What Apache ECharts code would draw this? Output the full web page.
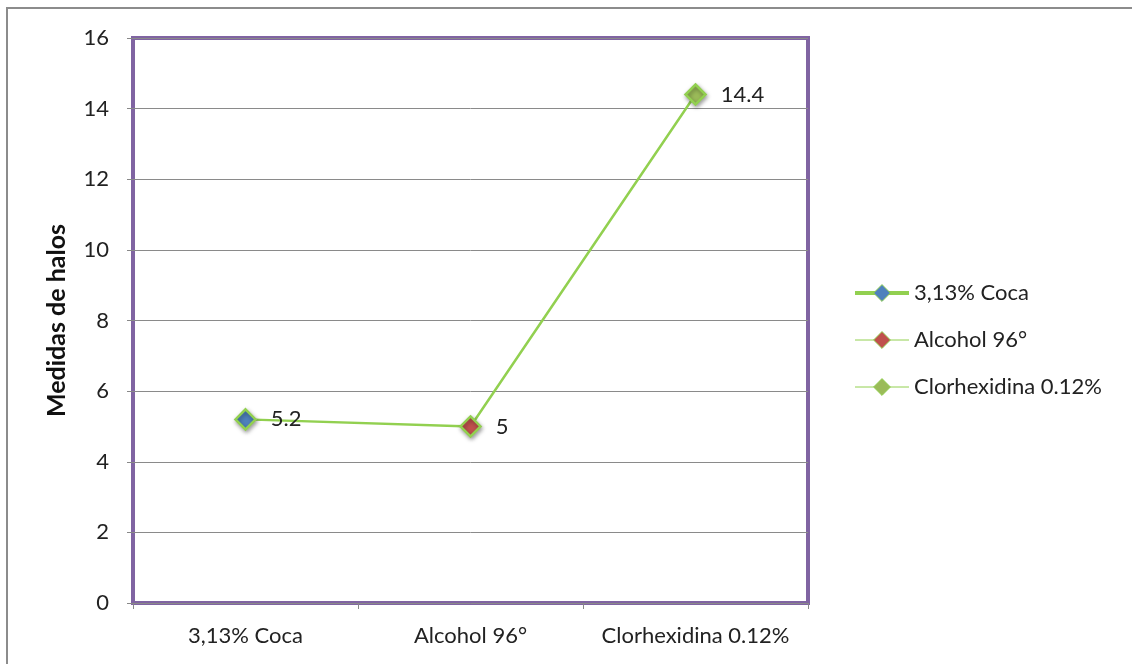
<!DOCTYPE html>
<html>
<head>
<meta charset="utf-8">
<script src="https://cdn.jsdelivr.net/npm/echarts@6/dist/echarts.min.js"></script>
<style>
  html, body { margin: 0; padding: 0; background: #fff; }
  #chart { width: 1132px; height: 664px; }
</style>
</head>
<body>
<div id="chart"></div>
<script>
// Halo measurements per antiseptic
const categories = ['3,13% Coca', 'Alcohol 96°', 'Clorhexidina 0.12%'];
const values = [5.2, 5, 14.4];
const pointColors = ['#4F81BD', '#C0504D', '#9BBB59'];
const yTicks = { min: 0, max: 16, interval: 2 };

const FONT = 'Lato, "Open Sans", sans-serif';
const LINE_GREEN = '#92D050';

const chart = echarts.init(document.getElementById('chart'), null, { renderer: 'canvas' });

const pointData = values.map((v, i) => ({
  value: v,
  itemStyle: { color: pointColors[i], borderColor: LINE_GREEN, borderWidth: 2.5,
    shadowColor: 'rgba(0,0,0,0.35)', shadowBlur: 4, shadowOffsetX: 1, shadowOffsetY: 2 }
}));

chart.setOption({
  animation: false,
  backgroundColor: '#fff',
  graphic: [{
    type: 'rect',
    shape: { x: 7, y: 8, width: 1140, height: 700 },
    style: { fill: 'none', stroke: '#8c8c8c', lineWidth: 2 },
    silent: true
  }],
  grid: {
    left: 133, top: 38, right: 324, bottom: 61,
    show: true, borderColor: '#8064A2', borderWidth: 4, backgroundColor: 'transparent'
  },
  legend: {
    orient: 'vertical',
    left: 848, top: 277,
    itemWidth: 54, itemHeight: 21, itemGap: 25,
    textStyle: { fontFamily: FONT, fontSize: 22, color: '#222' },
    data: [
      { name: categories[0], itemStyle: { color: pointColors[0], borderColor: LINE_GREEN, borderWidth: 1 }, lineStyle: { color: LINE_GREEN, width: 4 } },
      { name: categories[1], itemStyle: { color: pointColors[1], borderColor: LINE_GREEN, borderWidth: 1 }, lineStyle: { color: LINE_GREEN, width: 1 } },
      { name: categories[2], itemStyle: { color: pointColors[2], borderColor: LINE_GREEN, borderWidth: 1 }, lineStyle: { color: LINE_GREEN, width: 1 } }
    ]
  },
  xAxis: {
    type: 'category',
    data: categories,
    boundaryGap: true,
    axisLine: { show: false },
    axisTick: { show: true, length: 6, lineStyle: { color: '#888' } },
    axisLabel: { interval: 0, fontFamily: FONT, fontSize: 22, color: '#222', margin: 22 },
    splitLine: { show: false }
  },
  yAxis: {
    type: 'value',
    min: yTicks.min, max: yTicks.max, interval: yTicks.interval,
    name: 'Medidas de halos',
    nameLocation: 'middle',
    nameGap: 64,
    nameRotate: 90,
    nameTextStyle: { fontFamily: FONT, fontSize: 25, fontWeight: 'bold', color: '#111' },
    axisLine: { show: false },
    axisTick: { show: true, length: 6, lineStyle: { color: '#888' } },
    axisLabel: { fontFamily: FONT, fontSize: 22, color: '#222', margin: 24 },
    splitLine: { show: true, lineStyle: { color: '#8a8a8a', width: 1 } }
  },
  series: [
    {
      name: categories[0],
      type: 'line',
      data: pointData,
      symbol: 'diamond',
      symbolSize: 20,
      lineStyle: { color: LINE_GREEN, width: 2.5 },
      itemStyle: { color: pointColors[0], borderColor: LINE_GREEN },
      label: {
        show: true, position: 'right', distance: 14,
        fontFamily: FONT, fontSize: 22, color: '#222'
      },
      z: 5
    },
    { name: categories[1], type: 'line', data: [], symbol: 'diamond',
      itemStyle: { color: pointColors[1] }, lineStyle: { color: LINE_GREEN, width: 1 } },
    { name: categories[2], type: 'line', data: [], symbol: 'diamond',
      itemStyle: { color: pointColors[2] }, lineStyle: { color: LINE_GREEN, width: 1 } }
  ]
});
</script>
</body>
</html>
